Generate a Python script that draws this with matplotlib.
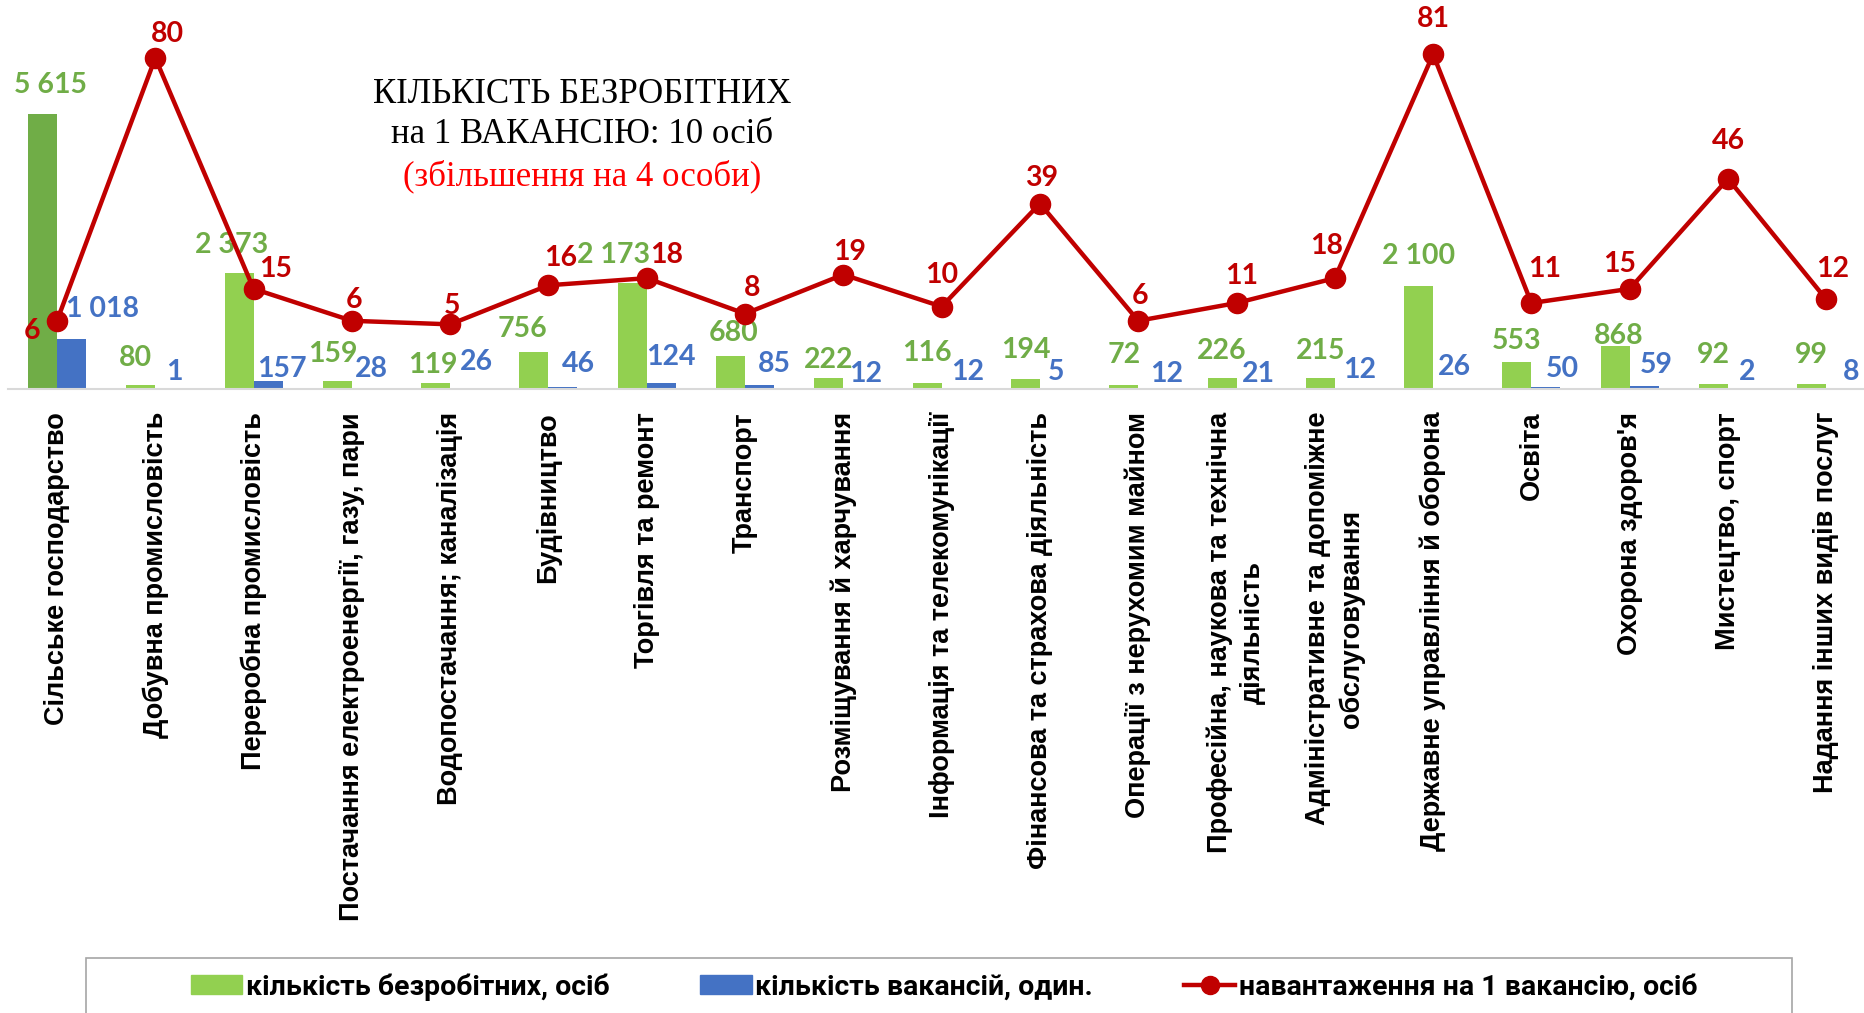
import numpy as np
import matplotlib.pyplot as plt
from matplotlib.lines import Line2D
from matplotlib.patches import Patch, Rectangle


categories = [
    "Сільське господарство",
    "Добувна промисловість",
    "Переробна промисловість",
    "Постачання електроенергії, газу, пари",
    "Водопостачання; каналізація",
    "Будівництво",
    "Торгівля та ремонт",
    "Транспорт",
    "Розміщування й харчування",
    "Інформація та телекомунікації",
    "Фінансова та страхова діяльність",
    "Операції з нерухомим майном",
    "Професійна, наукова та технічна\nдіяльність",
    "Адміністративне та допоміжне\nобслуговування",
    "Державне управління й оборона",
    "Освіта",
    "Охорона здоров'я",
    "Мистецтво, спорт",
    "Надання інших видів послуг",
]
unemployed = [5615, 80, 2373, 159, 119, 756, 2173, 680, 222, 116,
              194, 72, 226, 215, 2100, 553, 868, 92, 99]
vacancies = [1018, 1, 157, 28, 26, 46, 124, 85, 12, 12,
             5, 12, 21, 12, 26, 50, 59, 2, 8]
load = [6, 80, 15, 6, 5, 16, 18, 8, 19, 10,
        39, 6, 11, 18, 81, 11, 15, 46, 12]

series_names = ["кількість безробітних, осіб",
                "кількість вакансій, один.",
                "навантаження на 1 вакансію, осіб"]
title_lines = ["КІЛЬКІСТЬ БЕЗРОБІТНИХ",
               "на 1 ВАКАНСІЮ: 10 осіб",
               "(збільшення на 4 особи)"]

GREEN = "#92D050"
GREEN_DARK = "#70AD47"
BLUE = "#4472C4"
RED = "#C00000"

# label nudges, in pixels (the labels were dragged by hand in the original)
green_dx = [8, -5, -7, -5, -3, -11, -19, 3, 0, 0, 0, 0, 0, 0, 0, 0, 3, 0, 0]
green_dy = [21, 19, 20, 19, 10, 15, 20, 15, 10, 22, 21, 22, 19, 19, 22, 13, 2, 21, 21]
blue_dx = [31, 5, 14, 5, 12, 15, 10, 15, 8, 11, 2, 14, 7, 10, 7, 16, 12, 5, 10]
blue_dy = [22, 9, 4, 11, 18, 15, 18, 13, 6, 8, 9, 6, 6, 10, 13, 10, 13, 9, 9]
red_dx = [-25, 12, 22, 2, 2, 12, 20, 7, 6, 0, 2, 2, 5, -8, 0, 13, -10, 0, 6]
red_dy = [-18, 16, 12, 13, 10, 19, 15, 18, 15, 24, 18, 17, 19, 24, 27, 26, 17, 30, 22]

W, H = 1864, 1013
fig = plt.figure(figsize=(W / 100, H / 100), dpi=100)
ax = fig.add_axes([7.85 / W, 1 - 389 / H, 1867.6 / W, 389 / H])
ax2 = ax.twinx()

x = np.arange(len(categories))
bw = 0.295
colors = [GREEN_DARK] + [GREEN] * (len(categories) - 1)
ax.bar(x - bw / 2, unemployed, bw, color=colors)
ax.bar(x + bw / 2, vacancies, bw, color=BLUE)
ax.set_xlim(-0.5, len(categories) - 0.5)
ax.set_ylim(0, 7940)

ax2.plot(x, load, color=RED, lw=3.2, marker="o", ms=14.5)
ax2.set_ylim(-13.2, 96.3)

for a in (ax, ax2):
    for s in ("left", "right", "top"):
        a.spines[s].set_visible(False)
    a.set_yticks([])
ax2.spines["bottom"].set_visible(False)
ax.spines["bottom"].set_color("#D9D9D9")
ax.spines["bottom"].set_linewidth(1.5)

ax.set_xticks(x)
ax.set_xticklabels(categories, rotation=90, fontsize=19.5, fontweight="bold",
                   family="Liberation Sans", ha="center", va="top",
                   multialignment="center", linespacing=1.35)
ax.tick_params(axis="x", length=0, pad=16.5)

lab = dict(textcoords="offset pixels", ha="center", va="baseline",
           fontsize=20.5, fontweight="bold", family="Lato")
for i in range(len(categories)):
    ax.annotate(f"{unemployed[i]:,}".replace(",", " "),
                xy=(x[i] - bw / 2, unemployed[i]),
                xytext=(green_dx[i], green_dy[i]), color=GREEN_DARK, **lab)
    ax.annotate(f"{vacancies[i]:,}".replace(",", " "),
                xy=(x[i] + bw / 2, vacancies[i]),
                xytext=(blue_dx[i], blue_dy[i]), color=BLUE, **lab)
    ax2.annotate(str(load[i]), xy=(x[i], load[i]),
                 xytext=(red_dx[i], red_dy[i]), color=RED, **lab)

for line, yb, col in zip(title_lines, [103, 143, 185], ["black", "black", "#FF0000"]):
    fig.text(582 / W, 1 - yb / H, line, ha="center", va="baseline",
             fontsize=25, family="Liberation Serif", color=col)

handles = [Patch(color=GREEN),
           Patch(color=BLUE),
           Line2D([], [], color=RED, lw=3.2, marker="o", ms=13)]
fig.legend(handles, series_names, loc="center", ncol=3, frameon=False,
           bbox_to_anchor=(944 / W, 1 - 987 / H),
           prop=dict(family="Roboto", weight="bold", size=20.5),
           handlelength=1.8, handleheight=0.67, handletextpad=0.12,
           columnspacing=3.2)
fig.add_artist(Rectangle((86 / W, -0.05), (1792 - 86) / W, 0.05 + 1 - 958 / H,
                         transform=fig.transFigure, fill=False,
                         edgecolor="#A6A6A6", lw=1.2))

fig.savefig("out.png", dpi=100)
